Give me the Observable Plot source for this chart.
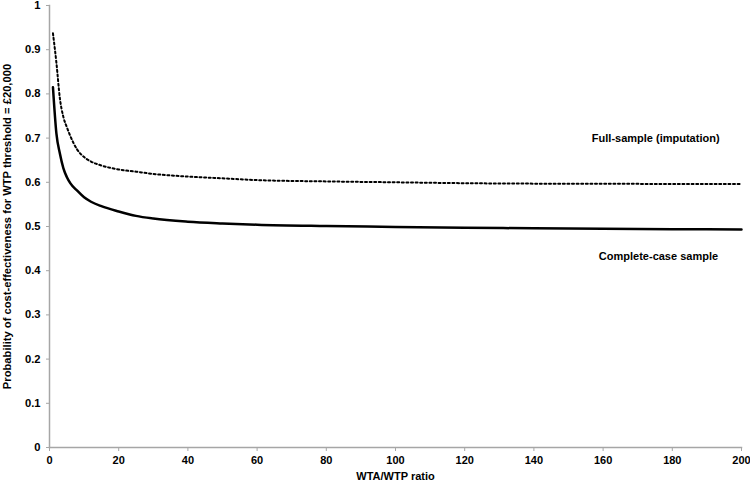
<!DOCTYPE html>
<html>
<head>
<meta charset="utf-8">
<script src="https://cdn.jsdelivr.net/npm/d3@7"></script>
<script src="https://cdn.jsdelivr.net/npm/@observablehq/plot@0.6"></script>
<style>
  html, body { margin: 0; padding: 0; background: #fff; }
  svg { display: block; }
</style>
</head>
<body>
<div id="chart"></div>
<script>
// WTA/WTP ratio sample points
const ratios = [1, 2, 3, 4, 5, 6, 8, 10, 12, 15, 20, 25, 30, 40, 50, 60, 80, 100, 120, 140, 160, 180, 200];
// Complete-case sample (solid line)
const completeCase = [0.815, 0.71, 0.665, 0.632, 0.612, 0.598, 0.581, 0.566, 0.556, 0.546, 0.534, 0.524, 0.518, 0.511, 0.507, 0.504, 0.501, 0.499, 0.497, 0.496, 0.495, 0.494, 0.493];
// Full-sample (imputation) (dotted line)
const fullSample = [0.937, 0.87, 0.79, 0.748, 0.725, 0.705, 0.674, 0.657, 0.647, 0.638, 0.629, 0.624, 0.619, 0.613, 0.609, 0.605, 0.602, 0.600, 0.598, 0.597, 0.597, 0.596, 0.596];
const xTicks = [0, 20, 40, 60, 80, 100, 120, 140, 160, 180, 200];
const yTicks = [0, 0.1, 0.2, 0.3, 0.4, 0.5, 0.6, 0.7, 0.8, 0.9, 1];
const seriesLabels = ["Full-sample (imputation)", "Complete-case sample"];
const labelX = [175.2, 176];
const labelY = [0.699, 0.432];

const solidData = ratios.map((r, i) => ({x: r, y: completeCase[i]}));
const dottedData = ratios.map((r, i) => ({x: r, y: fullSample[i]}));
const labelData = seriesLabels.map((t, i) => ({text: t, x: labelX[i], y: labelY[i]}));

const axisColor = "#a6a6a6";
const font = "Liberation Sans, Arial, sans-serif";

const chart = Plot.plot({
  width: 750,
  height: 481,
  marginLeft: 49,
  marginRight: 9,
  marginTop: 5,
  marginBottom: 34,
  style: {fontFamily: font, fontSize: "11px", fontWeight: "bold", color: "#000", background: "#fff"},
  x: {domain: [0, 200], ticks: xTicks},
  y: {domain: [0, 1], ticks: yTicks},
  marks: [
    Plot.axisX({
      ticks: xTicks, tickSize: 4, tickPadding: 5, stroke: axisColor,
      tickFormat: d => d3.format("d")(d), fill: "#000",
      label: "WTA/WTP ratio", labelAnchor: "center", labelArrow: "none", labelOffset: 32,
      fontSize: 11
    }),
    Plot.axisY({
      ticks: yTicks, tickSize: 3, tickPadding: 6, stroke: axisColor,
      tickFormat: d => (d === 0 || d === 1) ? String(d) : d3.format(".1f")(d), fill: "#000",
      label: "Probability of cost-effectiveness for WTP threshold = £20,000",
      labelAnchor: "center", labelArrow: "none", labelOffset: 46,
      fontSize: 11.2
    }),
    Plot.frame({anchor: "left", stroke: axisColor, strokeWidth: 1.5}),
    Plot.frame({anchor: "bottom", stroke: axisColor, strokeWidth: 1.5}),
    Plot.line(dottedData, {x: "x", y: "y", stroke: "#000", strokeWidth: 2, strokeDasharray: "2,2.6", curve: "monotone-x"}),
    Plot.line(solidData, {x: "x", y: "y", stroke: "#000", strokeWidth: 2.5, curve: "monotone-x"}),
    Plot.text(labelData, {x: "x", y: "y", text: "text", fill: "#000", fontSize: 11, fontWeight: "bold", textAnchor: "middle"})
  ]
});
document.getElementById("chart").appendChild(chart);
</script>
</body>
</html>
